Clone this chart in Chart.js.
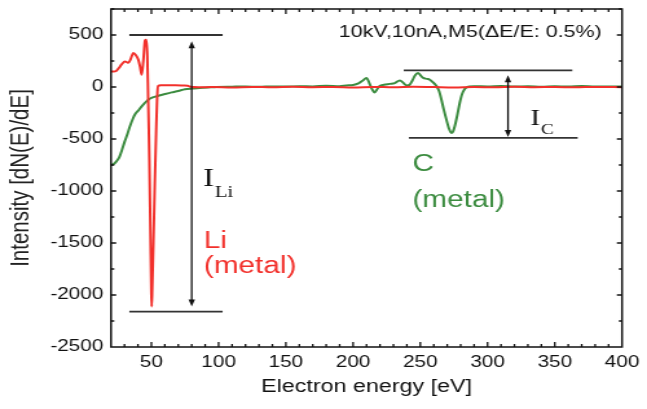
<!DOCTYPE html>
<html>
<head>
<meta charset="utf-8">
<script src="https://cdn.jsdelivr.net/npm/chart.js@4.4.0/dist/chart.umd.min.js"></script>
<style>
  html, body { margin: 0; padding: 0; background: #fff; }
  #chart { display: block; }
</style>
</head>
<body>
<!-- drawn narrower and stretched sideways, like the reference figure -->
<canvas id="chart" width="500" height="409" style="width:647px;height:409px"></canvas>
<script>
// Li (metal) spectrum, red
const liE = [20, 22, 24, 26, 28, 30.4, 32, 32.9, 34.5, 36.6, 38.5, 40.3, 41.5, 42.8, 44, 45.3, 46.2, 47, 47.6, 48.5,
  49.3, 49.9, 50.2, 50.6, 51.5, 52.5, 53.5, 54.3, 55, 57, 62, 68, 74, 77, 79, 85, 95, 110, 125, 140,
  155, 170, 185, 200, 215, 230, 245, 260, 275, 290, 305, 320, 335, 350, 365, 380, 400];
const liI = [150, 148, 155, 185, 220, 246, 238, 232, 265, 327, 305, 262, 200, 118, 250, 448, 455, 300, -100, -700,
  -1400, -1950, -2110, -1950, -1500, -950, -450, -100, 10, 16, 17, 16, 14, 12, 2, -3, 0, -4, 1, -3,
  2, -2, 0, -4, 1, -3, 2, -1, -4, 0, -3, 2, -2, 0, -3, 1, -2];

// C (metal) spectrum, green
const cE = [20, 22, 24, 26, 28, 30, 32, 34, 36.4, 38, 40, 42.8, 45, 47.7, 51, 55.1, 60, 65.1, 70, 75, 80, 86, 92, 98.5,
  110, 120, 130, 140, 150, 160, 170, 180, 190, 195, 200, 204, 207, 210, 212, 213.7, 216, 218, 219.8,
  223, 227.3, 231, 234.7, 237, 238.4, 240, 242, 244, 246, 248.3, 250, 252, 255, 257, 259, 262, 264,
  265.7, 267.5, 269.4, 271.3, 273.1, 274.3, 275.6, 277.5, 279.3, 281, 283, 285, 286.7, 290,
  300, 310, 320, 330, 340, 350, 360, 370, 380, 390, 400];
const cI = [-750, -740, -715, -680, -610, -530, -460, -380, -300, -260, -230, -186, -155, -122, -100, -84, -68, -52, -38, -22, -15, -10, -5, 0,
  3, 5, 2, 6, 4, 8, 5, 12, 8, 15, 20, 35, 60, 87, 40, -10, -52, -20, 10,
  22, 30, 38, 63, 45, 25, 15, 20, 60, 110, 134, 115, 88, 78, 70, 50, 10, -40,
  -122, -220, -314, -400, -442, -430, -378, -270, -154, -70, -19, 0, 5, 8,
  5, 10, 4, 8, 3, 7, 5, 9, 4, 6, 5];

const xTicks = [50, 100, 150, 200, 250, 300, 350, 400];
const yTicks = [-2500, -2000, -1500, -1000, -500, 0, 500];

// [from eV, to eV, intensity]
const refLines = [[33.6, 103, 500], [33.6, 103, -2160], [237.7, 363, 160], [241.5, 367, -490]];
// [eV, top, bottom]
const arrows = [[80, 440, -2110], [315.2, 112, -481]];

const RED = '#f2302b', GREEN = '#3c8c40';
const SANS = '"Liberation Sans", Arial, sans-serif';
const SERIF = '"Liberation Serif", "Times New Roman", serif';

const frame = {
  id: 'frame',
  afterDraw(chart) {
    const {ctx, chartArea: a, scales: {x, y}} = chart;
    ctx.save();
    ctx.strokeStyle = '#111';
    ctx.lineWidth = 1.5;
    ctx.strokeRect(a.left, a.top, a.right - a.left, a.bottom - a.top);
    ctx.lineWidth = 1.3;
    ctx.beginPath();
    for (let v = 30; v < 400; v += 10) {
      const px = x.getPixelForValue(v), len = v % 50 === 0 ? 5 : 3;
      ctx.moveTo(px, a.bottom); ctx.lineTo(px, a.bottom - len);
      ctx.moveTo(px, a.top); ctx.lineTo(px, a.top + len);
    }
    for (let v = -2250; v <= 750; v += 250) {
      const py = y.getPixelForValue(v), len = v % 500 === 0 ? 4 : 2.5;
      ctx.moveTo(a.left, py); ctx.lineTo(a.left + len, py);
      ctx.moveTo(a.right, py); ctx.lineTo(a.right - len, py);
    }
    ctx.stroke();
    ctx.restore();
  }
};

function subLabel(ctx, px, py, main, sub, size, subSize, drop) {
  ctx.font = size + 'px ' + SERIF;
  ctx.fillText(main, px, py);
  const w = ctx.measureText(main).width;
  ctx.font = subSize + 'px ' + SERIF;
  ctx.fillText(sub, px + w + 0.5, py + drop);
}

const notes = {
  id: 'notes',
  afterDatasetsDraw(chart) {
    const {ctx, scales: {x, y}} = chart;
    ctx.save();
    ctx.strokeStyle = '#333';
    ctx.lineWidth = 1.8;
    refLines.forEach(([e0, e1, v]) => {
      ctx.beginPath();
      ctx.moveTo(x.getPixelForValue(e0), y.getPixelForValue(v));
      ctx.lineTo(x.getPixelForValue(e1), y.getPixelForValue(v));
      ctx.stroke();
    });
    ctx.strokeStyle = '#111';
    ctx.fillStyle = '#111';
    ctx.lineWidth = 1.3;
    arrows.forEach(([e, v0, v1]) => {
      const px = x.getPixelForValue(e), top = y.getPixelForValue(v0), bot = y.getPixelForValue(v1);
      ctx.beginPath();
      ctx.moveTo(px, top + 4); ctx.lineTo(px, bot - 4);
      ctx.stroke();
      ctx.beginPath();
      ctx.moveTo(px, top); ctx.lineTo(px - 2.5, top + 7); ctx.lineTo(px + 2.5, top + 7); ctx.closePath();
      ctx.moveTo(px, bot); ctx.lineTo(px - 2.5, bot - 7); ctx.lineTo(px + 2.5, bot - 7); ctx.closePath();
      ctx.fill();
    });

    ctx.textAlign = 'left';
    ctx.textBaseline = 'alphabetic';
    ctx.fillStyle = '#111';
    subLabel(ctx, x.getPixelForValue(88.6), y.getPixelForValue(-956), 'I', 'Li', 25, 16, 11);
    subLabel(ctx, x.getPixelForValue(331.8), y.getPixelForValue(-363), 'I', 'C', 23, 15, 9);

    ctx.font = '23px ' + SANS;
    ctx.fillStyle = RED;
    ctx.fillText('Li', x.getPixelForValue(89), y.getPixelForValue(-1548));
    ctx.fillText('(metal)', x.getPixelForValue(89), y.getPixelForValue(-1785));
    ctx.fillStyle = GREEN;
    ctx.fillText('C', x.getPixelForValue(244.1), y.getPixelForValue(-812));
    ctx.fillText('(metal)', x.getPixelForValue(244.1), y.getPixelForValue(-1151));

    ctx.font = '16.6px ' + SANS;
    ctx.fillStyle = '#111';
    ctx.textAlign = 'right';
    ctx.textBaseline = 'middle';
    ctx.fillText('10kV,10nA,M5(\u0394E/E: 0.5%)', x.getPixelForValue(385), y.getPixelForValue(520));
    ctx.restore();
  }
};

new Chart(document.getElementById('chart'), {
  type: 'line',
  data: {
    datasets: [
      {label: 'Li', data: liE.map((e, i) => ({x: e, y: liI[i]})), borderColor: RED, borderWidth: 2, pointRadius: 0, cubicInterpolationMode: 'monotone'},
      {label: 'C', data: cE.map((e, i) => ({x: e, y: cI[i]})), borderColor: GREEN, borderWidth: 2, pointRadius: 0, cubicInterpolationMode: 'monotone'}
    ]
  },
  options: {
    responsive: false,
    devicePixelRatio: 1,
    animation: false,
    layout: {padding: {left: 0, top: 9, right: 19.3, bottom: 0}},
    plugins: {legend: {display: false}, tooltip: {enabled: false}},
    scales: {
      x: {
        type: 'linear', min: 20, max: 400,
        afterBuildTicks: s => { s.ticks = xTicks.map(v => ({value: v})); },
        afterFit: s => { s.height = 62; s.paddingLeft = 0; s.paddingRight = 0; },
        grid: {display: false, drawTicks: false},
        border: {display: false},
        ticks: {color: '#111', font: {family: SANS, size: 16}, padding: 6, maxRotation: 0, autoSkip: false, callback: v => String(v)},
        title: {display: true, text: 'Electron energy [eV]', color: '#111', font: {family: SANS, size: 18}, padding: {top: 0, bottom: 11}}
      },
      y: {
        type: 'linear', min: -2500, max: 750,
        afterBuildTicks: s => { s.ticks = yTicks.map(v => ({value: v})); },
        afterFit: s => { s.width = 85.8; s.paddingTop = 0; s.paddingBottom = 0; },
        grid: {display: false, drawTicks: false},
        border: {display: false},
        ticks: {color: '#111', font: {family: SANS, size: 16}, padding: 6, callback: v => String(v)},
        title: {display: true, text: 'Intensity [dN(E)/dE]', color: '#222', font: {family: SANS, size: 20.5}, padding: {top: 4, bottom: 0}}
      }
    }
  },
  plugins: [frame, notes]
});
</script>
</body>
</html>
